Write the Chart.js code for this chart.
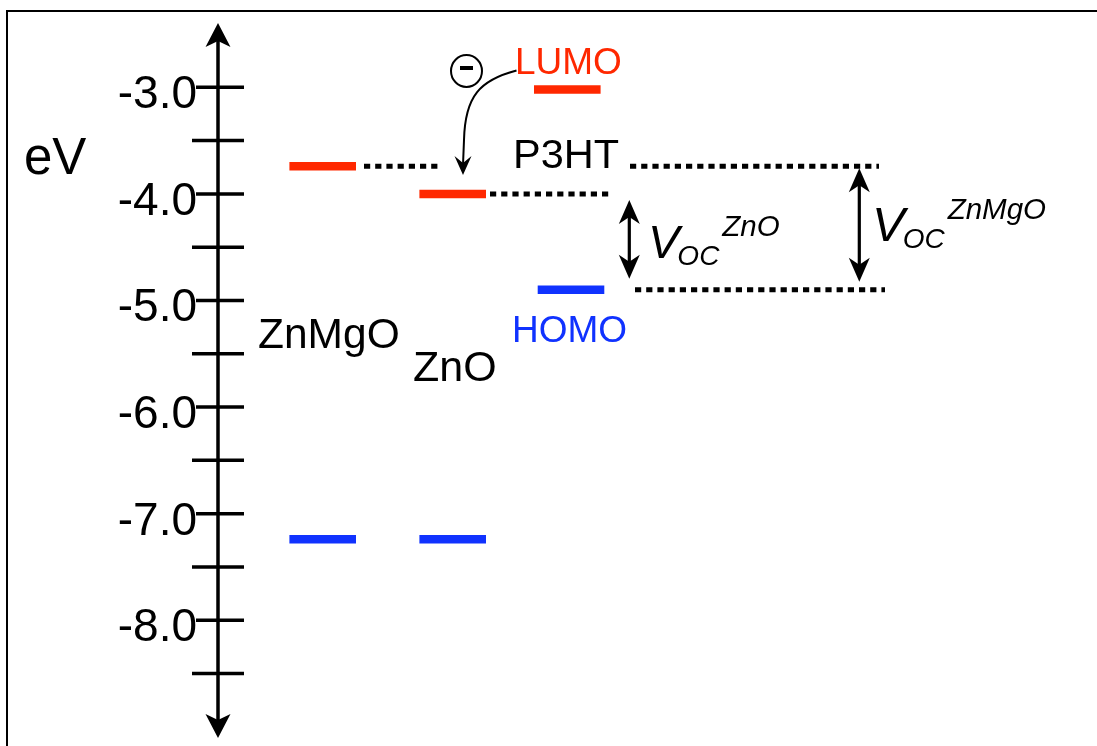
<!DOCTYPE html>
<html>
<head>
<meta charset="utf-8">
<script src="https://cdn.jsdelivr.net/npm/chart.js@4/dist/chart.umd.min.js"></script>
<style>
html,body{margin:0;padding:0;background:#fff;}
#wrap{width:1097px;height:746px;position:relative;}
</style>
</head>
<body>
<div id="wrap"><canvas id="c"></canvas></div>
<script>
// ---- data ----
const materials = ['ZnMgO', 'ZnO', 'P3HT'];
const lumo = [-3.74, -4.0, -3.02];
const homo = [-7.24, -7.24, -4.9];
const majorTicks = [-3, -4, -5, -6, -7, -8];
const minorTicks = [-3.5, -4.5, -5.5, -6.5, -7.5, -8.5];
const tickLabels = ['-3.0', '-4.0', '-5.0', '-6.0', '-7.0', '-8.0'];
const axisTitle = 'eV';
const vocSup = ['ZnO', 'ZnMgO'];

// ---- layout / style ----
const RED = 'rgb(255,40,0)';
const BLUE = 'rgb(16,50,255)';
const INK = '#000';
const FONT = '"Liberation Sans", Arial, Helvetica, sans-serif';
const lumoX = [322.7, 452.7, 567.3];
const homoX = [322.7, 452.7, 571];
const HALF = 33.3;
const connectors = [
  { x0: 364, x1: 440, level: () => lumo[0] },
  { x0: 490, x1: 611, level: () => lumo[1] },
  { x0: 630, x1: 879, level: () => lumo[0] },
  { x0: 635, x1: 885, level: () => homo[2] }
];

const datasets = [];
materials.forEach((m, i) => {
  datasets.push({
    label: m + ' LUMO',
    data: [{ x: lumoX[i] - HALF, y: lumo[i] }, { x: lumoX[i] + HALF, y: lumo[i] }],
    borderColor: RED, borderWidth: 8.5, pointRadius: 0, borderCapStyle: 'butt'
  });
  datasets.push({
    label: m + ' HOMO',
    data: [{ x: homoX[i] - HALF, y: homo[i] }, { x: homoX[i] + HALF, y: homo[i] }],
    borderColor: BLUE, borderWidth: 8.5, pointRadius: 0, borderCapStyle: 'butt'
  });
});
connectors.forEach((c, i) => {
  datasets.push({
    label: 'connector ' + i,
    data: [{ x: c.x0, y: c.level() }, { x: c.x1, y: c.level() }],
    borderColor: INK, borderWidth: 5, borderDash: [6.2, 5], pointRadius: 0, borderCapStyle: 'butt'
  });
});

function arrowHead(ctx, x, tipY, dir, len, halfW, notch) {
  ctx.beginPath();
  ctx.moveTo(x, tipY);
  ctx.lineTo(x + halfW, tipY + dir * len);
  ctx.lineTo(x, tipY + dir * notch);
  ctx.lineTo(x - halfW, tipY + dir * len);
  ctx.closePath();
  ctx.fill();
}

function doubleArrow(ctx, x, top, bottom) {
  ctx.lineWidth = 3.2;
  ctx.beginPath();
  ctx.moveTo(x, top + 10);
  ctx.lineTo(x, bottom - 10);
  ctx.stroke();
  arrowHead(ctx, x, top, 1, 24, 10.5, 17);
  arrowHead(ctx, x, bottom, -1, 24, 10.5, 17);
}

const overlay = {
  id: 'overlay',
  afterDatasetsDraw(chart) {
    const ctx = chart.ctx;
    const ys = chart.scales.y, xs = chart.scales.x;
    const Y = v => ys.getPixelForValue(v);
    const X = v => xs.getPixelForValue(v);
    ctx.save();
    ctx.strokeStyle = INK; ctx.fillStyle = INK;

    // frame
    ctx.lineWidth = 2;
    ctx.beginPath();
    ctx.moveTo(X(7), 746); ctx.lineTo(X(7), 11); ctx.lineTo(X(1097), 11);
    ctx.stroke();

    // vertical axis with arrows
    const ax = X(218);
    ctx.lineWidth = 3.5;
    ctx.beginPath();
    ctx.moveTo(ax, 35); ctx.lineTo(ax, 726);
    ctx.stroke();
    arrowHead(ctx, ax, 23, 1, 24, 12.5, 18);
    arrowHead(ctx, ax, 738, -1, 24, 12.5, 18);

    // ticks
    ctx.lineWidth = 3.5;
    majorTicks.forEach(v => {
      ctx.beginPath(); ctx.moveTo(X(196), Y(v)); ctx.lineTo(X(244), Y(v)); ctx.stroke();
    });
    minorTicks.forEach(v => {
      ctx.beginPath(); ctx.moveTo(X(192), Y(v)); ctx.lineTo(X(244), Y(v)); ctx.stroke();
    });

    // tick labels
    ctx.font = '46px ' + FONT;
    ctx.textAlign = 'right'; ctx.textBaseline = 'alphabetic';
    majorTicks.forEach((v, i) => ctx.fillText(tickLabels[i], X(197), Y(v) + 21));

    ctx.textAlign = 'left';
    ctx.font = '51px ' + FONT;
    ctx.fillText(axisTitle, X(24), 174);

    // material labels
    ctx.font = '42.5px ' + FONT;
    ctx.fillText(materials[0], X(258), 348);
    ctx.font = '43px ' + FONT;
    ctx.fillText(materials[1], X(413), 381);
    ctx.font = '41.5px ' + FONT;
    ctx.fillText(materials[2], X(513), 168);

    ctx.font = '37px ' + FONT;
    ctx.fillStyle = RED;
    ctx.fillText('LUMO', X(515), 74);
    ctx.fillStyle = BLUE;
    ctx.fillText('HOMO', X(512), 342);
    ctx.fillStyle = INK;

    // Voc arrows
    doubleArrow(ctx, X(629.3), Y(lumo[1]) + 6, Y(homo[2]) - 11);
    doubleArrow(ctx, X(859.3), Y(lumo[0]) + 2, Y(homo[2]) - 8);

    // Voc labels
    function voc(x, base, vSize, sup) {
      ctx.font = 'italic ' + vSize + 'px ' + FONT;
      ctx.fillText('V', x, base);
      const w = ctx.measureText('V').width;
      ctx.font = 'italic 28px ' + FONT;
      ctx.fillText('OC', x + w - 2, base + 7);
      const w2 = ctx.measureText('OC').width;
      ctx.font = 'italic 29.5px ' + FONT;
      ctx.fillText(sup, x + w - 2 + w2 + 3, base - 22);
    }
    voc(X(648), 258, 47, vocSup[0]);
    voc(X(872), 241, 49, vocSup[1]);

    // electron circle
    ctx.lineWidth = 2;
    ctx.beginPath();
    ctx.ellipse(X(466.5), 71, 15.5, 16, 0, 0, Math.PI * 2);
    ctx.stroke();
    ctx.lineWidth = 4;
    ctx.beginPath();
    ctx.moveTo(X(460), 68); ctx.lineTo(X(473), 68);
    ctx.stroke();

    // curved arrow from P3HT LUMO to ZnO LUMO
    const tip = Y(lumo[1]) - 19;
    ctx.lineWidth = 2;
    ctx.beginPath();
    ctx.moveTo(X(516.5), 70.5);
    ctx.bezierCurveTo(X(480), 80, X(465), 96, X(464), 140);
    ctx.lineTo(X(463), tip - 10);
    ctx.stroke();
    arrowHead(ctx, X(463), tip, -1, 19, 8.5, 12);

    ctx.restore();
  }
};

new Chart(document.getElementById('c'), {
  type: 'line',
  data: { datasets },
  options: {
    responsive: true,
    maintainAspectRatio: false,
    animation: false,
    devicePixelRatio: 1,
    layout: { padding: 0 },
    plugins: { legend: { display: false }, tooltip: { enabled: false } },
    scales: {
      x: { type: 'linear', display: false, min: 0, max: 1097 },
      y: { type: 'linear', display: false, min: -9.18, max: -2.181 }
    }
  },
  plugins: [overlay]
});
</script>
</body>
</html>
